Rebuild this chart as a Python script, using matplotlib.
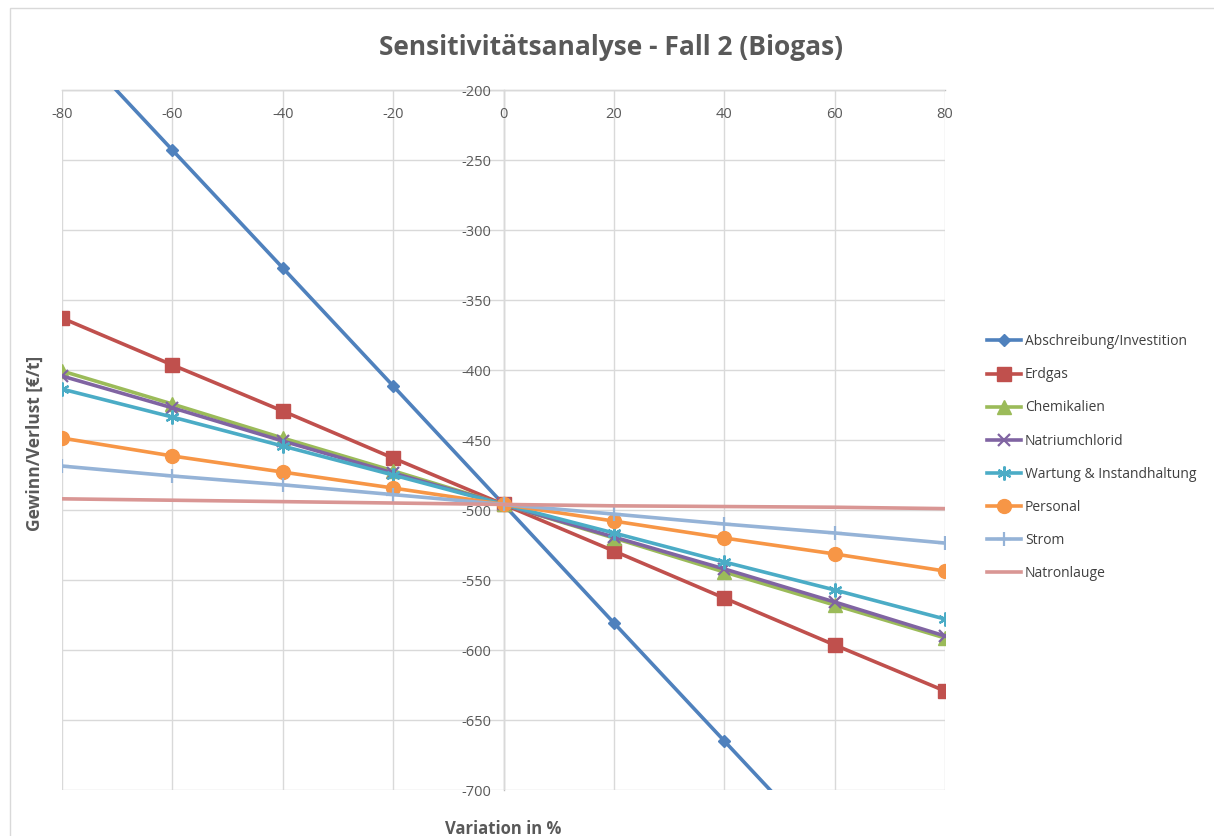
import numpy as np
import matplotlib.pyplot as plt
from matplotlib.patches import Rectangle

# Variation der Kostenpositionen in %
variation = [-80, -60, -40, -20, 0, 20, 40, 60, 80]

abschreibung = [-158.6, -242.9, -327.1, -411.4, -496.0, -580.7, -665.0, -749.3, -833.6]
erdgas = [-362.9, -396.4, -429.3, -462.9, -496.0, -529.3, -562.9, -596.4, -629.3]
chemikalien = [-400.7, -424.3, -448.6, -472.0, -496.0, -520.0, -544.3, -567.9, -591.4]
natriumchlorid = [-404.3, -427.0, -450.7, -473.6, -496.0, -519.3, -542.1, -565.7, -590.0]
wartung = [-413.6, -433.6, -454.3, -475.0, -496.0, -516.4, -537.1, -557.1, -577.9]
personal = [-448.6, -461.4, -472.9, -484.3, -496.0, -507.9, -520.0, -531.4, -543.6]
strom = [-468.6, -475.7, -482.0, -489.0, -496.0, -502.9, -510.0, -516.4, -523.6]
natronlauge = [-492.0, -493.0, -494.0, -495.0, -496.0, -497.0, -497.5, -498.0, -499.0]

names = ['Abschreibung/Investition', 'Erdgas', 'Chemikalien', 'Natriumchlorid',
         'Wartung & Instandhaltung', 'Personal', 'Strom', 'Natronlauge']
series = [abschreibung, erdgas, chemikalien, natriumchlorid,
          wartung, personal, strom, natronlauge]
colors = ['#4F81BD', '#C0504D', '#9BBB59', '#8064A2',
          '#4BACC6', '#F79646', '#95B3D7', '#D99694']
markers = ['D', 's', '^', 'x', (6, 2, 0), 'o', '+', None]
msizes = [6, 10, 10, 8, 10, 10, 10, 0]

plt.rcParams['font.family'] = ['Open Sans', 'DejaVu Sans']
plt.rcParams['axes.unicode_minus'] = False
grey = '#595959'

fig = plt.figure(figsize=(12.14, 8.36), dpi=100)
fig.patches.append(Rectangle((0.008, -0.01), 1.2, 1.0, transform=fig.transFigure,
                             fill=False, edgecolor='#D9D9D9', lw=1))

ax = fig.add_axes([0.0511, 0.055, 0.7274, 0.8373])

for vals, name, c, m, ms in zip(series, names, colors, markers, msizes):
    ax.plot(variation, vals, color=c, lw=2.6, marker=m, markersize=ms,
            markeredgewidth=1.6 if m in ('x', '+', (6, 2, 0)) else 1,
            label=name, zorder=3)

ax.set_xlim(-80, 80)
ax.set_ylim(-700, -200)
ax.set_xticks(np.arange(-80, 81, 20))
ax.set_yticks(np.arange(-700, -199, 50))
ax.grid(True, color='#D9D9D9', lw=1)
ax.set_axisbelow(True)

# Achsen kreuzen bei x=0 bzw. y=-200 (oben)
ax.spines['left'].set_position(('data', 0))
ax.spines['bottom'].set_position(('data', -200))
ax.spines['right'].set_visible(False)
ax.spines['top'].set_visible(False)
for s in ('left', 'bottom'):
    ax.spines[s].set_color('#BFBFBF')
    ax.spines[s].set_linewidth(1)
    ax.spines[s].set_zorder(0.4)
ax.tick_params(length=0, labelsize=10.5, labelcolor=grey)
ax.tick_params(axis='x', pad=12)
ax.tick_params(axis='y', pad=9)

fig.text(0.503, 0.943, 'Sensitivitätsanalyse - Fall 2 (Biogas)', ha='center', va='center',
         fontsize=19, fontweight='bold', color=grey)
fig.text(0.029, 0.47, 'Gewinn/Verlust [€/t]', rotation=90, ha='center', va='center',
         fontsize=12.5, fontweight='bold', color=grey)
fig.text(0.4143, 0.008, 'Variation in %', ha='center', va='center',
         fontsize=12, fontweight='bold', color=grey)

leg = fig.legend(loc='upper left', bbox_to_anchor=(0.803, 0.615), frameon=False,
                 fontsize=10, labelspacing=1.3, handlelength=2.4, handletextpad=0.3)
for t in leg.get_texts():
    t.set_color('#404040')

fig.savefig('out.png', dpi=100)
